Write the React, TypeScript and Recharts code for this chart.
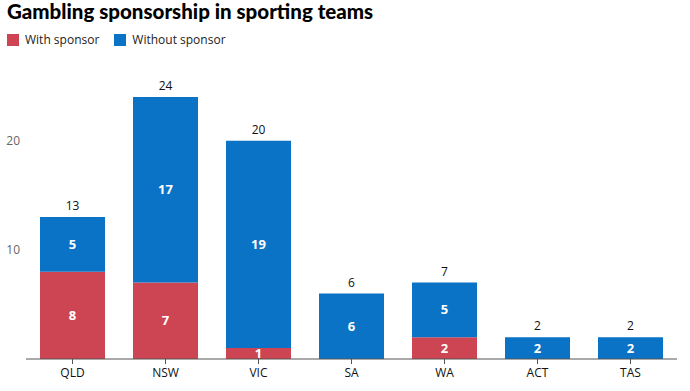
import React from 'react';
import { Bar, BarChart, LabelList, XAxis, YAxis } from 'recharts';

const states = ['QLD', 'NSW', 'VIC', 'SA', 'WA', 'ACT', 'TAS'];
const withSponsor = [8, 7, 1, 0, 2, 0, 0];
const withoutSponsor = [5, 17, 19, 6, 5, 2, 2];
const yTicks = [10, 20];

const RED = '#cd4553';
const BLUE = '#0a73c6';
const FONT = '"Open Sans", sans-serif';

const data = states.map((s, i) => ({
  name: s,
  withSponsor: withSponsor[i],
  withoutSponsor: withoutSponsor[i],
  total: withSponsor[i] + withoutSponsor[i],
}));

const hideZero = (v: any) => (v ? v : '');

const App: React.FC = () => {
  return (
    <div style={{ position: 'absolute', left: 0, top: 0, width: 690, height: 391, fontFamily: FONT }}>
      <div style={{ position: 'absolute', left: 7, top: -1, fontSize: 20.5, fontWeight: 900, fontFamily: 'Lato, sans-serif', color: '#000', whiteSpace: 'nowrap' }}>
        Gambling sponsorship in sporting teams
      </div>
      <div style={{ position: 'absolute', left: 7, top: 31, fontSize: 12, color: '#222', display: 'flex', alignItems: 'center' }}>
        <span style={{ width: 12, height: 12, background: RED, display: 'inline-block', marginRight: 6 }} />
        <span style={{ marginRight: 15 }}>With sponsor</span>
        <span style={{ width: 12, height: 12, background: BLUE, display: 'inline-block', marginRight: 6 }} />
        <span>Without sponsor</span>
      </div>
      <BarChart
        width={690}
        height={391}
        data={data}
        margin={{ top: 97, right: 13, bottom: 2, left: 0 }}
        barCategoryGap={14}
        style={{ position: 'absolute', left: 0, top: 0 }}
      >
        <XAxis
          dataKey="name"
          height={30}
          stroke="#555"
          tickSize={5}
          tickMargin={4}
          tick={{ fill: '#111', fontSize: 12, fontFamily: FONT }}
        />
        <YAxis
          width={26}
          domain={[0, 24]}
          ticks={yTicks}
          axisLine={false}
          tickLine={false}
          tickSize={0}
          tickMargin={6}
          tick={{ fill: '#666', fontSize: 12, fontFamily: FONT }}
        />
        <Bar dataKey="withSponsor" stackId="a" fill={RED} isAnimationActive={false}>
          <LabelList dataKey="withSponsor" position="center" formatter={hideZero} fill="#fff" fontSize={13} fontWeight={700} fontFamily={FONT} />
        </Bar>
        <Bar dataKey="withoutSponsor" stackId="a" fill={BLUE} isAnimationActive={false}>
          <LabelList dataKey="withoutSponsor" position="center" formatter={hideZero} fill="#fff" fontSize={13} fontWeight={700} fontFamily={FONT} />
          <LabelList dataKey="total" position="top" offset={7} fill="#111" fontSize={12} fontFamily={FONT} />
        </Bar>
      </BarChart>
    </div>
  );
};

export default App;
